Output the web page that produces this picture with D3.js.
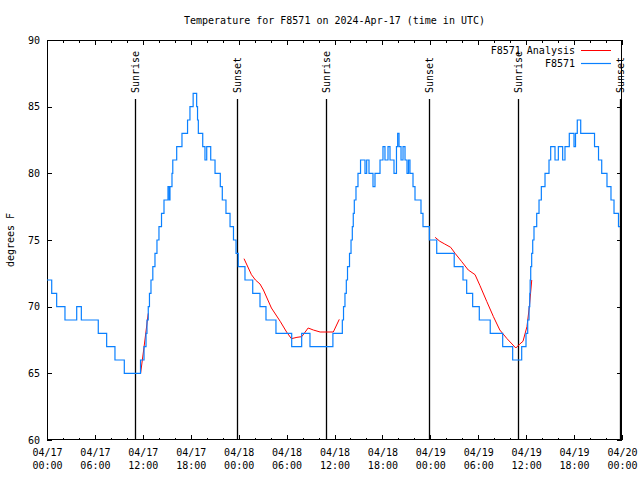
<!DOCTYPE html>
<html>
<head>
<meta charset="utf-8">
<script src="https://cdn.jsdelivr.net/npm/d3@7"></script>
<style>
  body { margin: 0; background: #fff; }
  svg { display: block; font-family: "DejaVu Sans Mono", monospace; }
</style>
</head>
<body>
<svg id="chart" width="640" height="480"></svg>
<script>
// ---- Data (hours since 2024-04-17 00:00 UTC) ----
const titleText = "Temperature for F8571 on 2024-Apr-17 (time in UTC)";
const yLabelText = "degrees F";
const seriesNames = ["F8571 Analysis", "F8571"];
const yTicks = [60, 65, 70, 75, 80, 85, 90];

// Observed (step change points: hour, temperature)
const obsHours = [0, 0.59, 1.21, 2.25, 3.72, 4.3, 6.42, 7.47, 8.51, 9.68, 11.71,
  12.15, 12.4, 12.52, 12.68, 12.83, 13.02, 13.25, 13.52, 13.77, 14.02, 14.34, 14.65,
  15.15, 15.31, 15.4, 15.65, 15.75, 16.24, 16.9, 17.6, 17.9, 18.3, 18.74, 18.85, 18.95,
  19.5, 19.78, 20.0, 20.5, 21.04, 21.7, 21.95, 22.41, 22.92, 23.35, 23.67, 23.95,
  24.79, 25.76, 26.67, 27.42, 28.67, 30.64, 31.89, 32.93, 35.8, 36.98,
  37.13, 37.31, 37.48, 37.63, 37.88, 38.07, 38.23, 38.35, 38.48, 38.69, 38.94, 39.26,
  39.82, 40.03, 40.32, 40.82, 41.07, 41.7, 42.07, 42.32, 42.7, 42.95, 43.45, 43.76,
  43.91, 44.08, 44.33, 44.58, 44.83, 45.08, 45.27, 45.45, 45.83, 46.08, 46.83, 47.08,
  47.88, 48.8, 50.99, 52.09, 52.55, 53.3, 54.13, 55.5, 57.06, 58.31, 59.44, 59.98,
  60.19, 60.36, 60.45, 60.5, 60.57, 60.69, 60.82, 60.98, 61.32, 61.61, 61.9, 62.36,
  62.86, 63.07, 63.61, 64.03, 64.57, 64.86, 65.4, 65.99, 66.18, 66.4, 66.83, 68.56,
  69.06, 69.46, 70.12, 70.62, 71.0, 71.56, 71.75];
const obsTemps = [72, 71, 70, 69, 70, 69, 68, 67, 66, 65, 66,
  67, 68, 69, 70, 71, 72, 73, 74, 75, 76, 77, 78,
  79, 78, 79, 80, 81, 82, 83, 84, 85, 86, 85, 84, 83,
  82, 81, 82, 81, 80, 79, 78, 77, 76, 75, 74, 73,
  72, 71, 70, 69, 68, 67, 68, 67, 68, 69,
  70, 71, 72, 73, 74, 75, 76, 77, 78, 79, 80, 81,
  80, 81, 80, 79, 80, 81, 82, 81, 82, 81, 80, 82,
  83, 82, 81, 82, 81, 80, 81, 80, 79, 78, 77, 76,
  75, 74, 73, 72, 71, 70, 69, 68, 67, 66, 67, 68,
  69, 70, 71, 72, 73, 74, 75, 76, 77, 78, 79, 80,
  81, 82, 81, 82, 81, 82, 83, 82, 83, 84, 83, 82,
  81, 80, 79, 78, 77, 76, 76];

// Analysis (null separates segments)
const anaHours = [11.72, 12.2, 12.68, null,
  24.67, 25.6, 26.1, 26.67, 27.1, 28.1, 29.2, 30.0, 30.6, 31.3, 31.9, 32.7, 33.35, 34.2, 35.85, 36.6, null,
  48.6, 49.2, 49.8, 50.55, 51.1, 51.9, 52.75, 53.6, 54.2, 55.06, 55.9, 56.7, 57.6, 58.7, 59.2, 59.6, 60.1, 60.4, 60.7];
const anaTemps = [65.0, 67.2, 69.5, null,
  73.6, 72.4, 72.0, 71.7, 71.25, 69.9, 68.9, 68.1, 67.6, 67.7, 67.75, 68.4, 68.25, 68.1, 68.1, 69.05, null,
  75.2, 74.9, 74.7, 74.45, 74.0, 73.4, 72.75, 72.4, 71.6, 70.4, 69.25, 68.25, 67.6, 66.9, 67.2, 67.4, 68.5, 70.0, 72.0];

const sunriseHours = [11.02, 34.96, 59.0];
const sunsetHours = [23.85, 47.86, 71.8];

// ---- Chart ----
const svg = d3.select("#chart");
const W = 640, H = 480;
const margin = {left: 47, right: 18, top: 40, bottom: 40};
const t0 = Date.UTC(2024, 3, 17);
const toDate = h => new Date(t0 + h * 3600000);

const x = d3.scaleUtc()
  .domain([toDate(0), toDate(72)])
  .range([margin.left, W - margin.right]);
const y = d3.scaleLinear()
  .domain([60, 90])
  .range([H - margin.bottom, margin.top]);

const fontSize = 10;
const blue = "#0a80ff";

// Title (centered on plot area)
svg.append("text")
  .attr("x", (margin.left + W - margin.right) / 2).attr("y", 20)
  .attr("text-anchor", "middle")
  .attr("dominant-baseline", "central")
  .attr("font-size", fontSize)
  .text(titleText);

// Y label
svg.append("text")
  .attr("transform", `translate(10,${(margin.top + H - margin.bottom) / 2}) rotate(-90)`)
  .attr("text-anchor", "middle")
  .attr("dominant-baseline", "central")
  .attr("font-size", fontSize)
  .text(yLabelText);

const majorTicks = d3.utcHour.every(6).range(toDate(0), toDate(72.01));
const minorTicks = d3.utcHour.every(2).range(toDate(0), toDate(72.01));

// Bottom axis (major with labels)
const gB = svg.append("g")
  .attr("transform", `translate(0,${H - margin.bottom})`)
  .call(d3.axisBottom(x).tickValues(majorTicks).tickSizeInner(-5).tickSizeOuter(0).tickPadding(9).tickFormat(""));
gB.selectAll(".tick text").each(function(d) {
  const t = d3.select(this);
  t.append("tspan").attr("x", 0).attr("dy", "0.71em").text(d3.utcFormat("%m/%d")(d));
  t.append("tspan").attr("x", 0).attr("dy", "1.3em").text(d3.utcFormat("%H:%M")(d));
}).attr("dy", null);
// bottom minor
svg.append("g")
  .attr("transform", `translate(0,${H - margin.bottom})`)
  .call(d3.axisBottom(x).tickValues(minorTicks).tickSizeInner(-2.5).tickSizeOuter(0).tickFormat(""));
// top mirrored
svg.append("g")
  .attr("transform", `translate(0,${margin.top})`)
  .call(d3.axisTop(x).tickValues(majorTicks).tickSizeInner(-5).tickSizeOuter(0).tickFormat(""));
svg.append("g")
  .attr("transform", `translate(0,${margin.top})`)
  .call(d3.axisTop(x).tickValues(minorTicks).tickSizeInner(-2.5).tickSizeOuter(0).tickFormat(""));

// Left axis
svg.append("g")
  .attr("transform", `translate(${margin.left},0)`)
  .call(d3.axisLeft(y).tickValues(yTicks).tickSizeInner(-5).tickSizeOuter(0).tickPadding(7).tickFormat(d3.format("d")));
// Right mirrored
svg.append("g")
  .attr("transform", `translate(${W - margin.right},0)`)
  .call(d3.axisRight(y).tickValues(yTicks).tickSizeInner(-5).tickSizeOuter(0).tickFormat(""));

svg.selectAll(".domain").remove();
svg.selectAll(".tick line").attr("stroke", "#000").attr("shape-rendering", "crispEdges");
svg.selectAll(".tick text").attr("font-size", fontSize).attr("font-family", "DejaVu Sans Mono, monospace").attr("fill", "#000");

// Frame
svg.append("rect")
  .attr("x", margin.left + 0.5).attr("y", margin.top + 0.5)
  .attr("width", W - margin.left - margin.right - 1)
  .attr("height", H - margin.top - margin.bottom - 1)
  .attr("fill", "none").attr("stroke", "#000")
  .attr("shape-rendering", "crispEdges");

// Sun lines
const plotTop = margin.top, plotBottom = H - margin.bottom;
const lineTop = plotTop + 0.1475 * (plotBottom - plotTop);
const sunEvents = sunriseHours.map(h => ({h, label: "Sunrise"}))
  .concat(sunsetHours.map(h => ({h, label: "Sunset"})));
const sunG = svg.append("g");
sunG.selectAll("line").data(sunEvents).join("line")
  .attr("x1", d => Math.round(x(toDate(d.h))) + 0.5).attr("x2", d => Math.round(x(toDate(d.h))) + 0.5)
  .attr("y1", lineTop).attr("y2", plotBottom)
  .attr("stroke", "#000").attr("stroke-width", 1.3);
sunG.selectAll("text").data(sunEvents).join("text")
  .attr("transform", d => `translate(${x(toDate(d.h))},${lineTop - 6}) rotate(-90)`)
  .attr("text-anchor", "start")
  .attr("dy", "0.38em")
  .attr("font-size", fontSize)
  .text(d => d.label);

// Analysis line (red)
const anaData = anaHours.map((h, i) => ({h, v: anaTemps[i]}));
svg.append("path")
  .datum(anaData)
  .attr("fill", "none")
  .attr("stroke", "#ff0000")
  .attr("stroke-width", 1)
  .attr("d", d3.line()
    .defined(d => d.h !== null && d.v !== null)
    .x(d => x(toDate(d.h)))
    .y(d => y(d.v)));

// Observed line (blue)
const obsData = obsHours.map((h, i) => ({h, v: obsTemps[i]}));
svg.append("path")
  .datum(obsData)
  .attr("fill", "none")
  .attr("stroke", blue)
  .attr("stroke-width", 1.2)
  .attr("d", d3.line()
    .curve(d3.curveStepAfter)
    .x(d => x(toDate(d.h)))
    .y(d => y(d.v)));

// Legend
const legend = svg.append("g");
const legendItems = [
  {name: seriesNames[0], color: "#ff0000", w: 1},
  {name: seriesNames[1], color: blue, w: 1.2}
];
legendItems.forEach((d, i) => {
  const ly = 50 + i * 13;
  legend.append("text")
    .attr("x", 575).attr("y", ly)
    .attr("text-anchor", "end")
    .attr("dominant-baseline", "central")
    .attr("font-size", fontSize)
    .text(d.name);
  legend.append("line")
    .attr("x1", 581).attr("x2", 611)
    .attr("y1", ly + 0.5).attr("y2", ly + 0.5)
    .attr("stroke", d.color).attr("stroke-width", d.w);
});
</script>
</body>
</html>
